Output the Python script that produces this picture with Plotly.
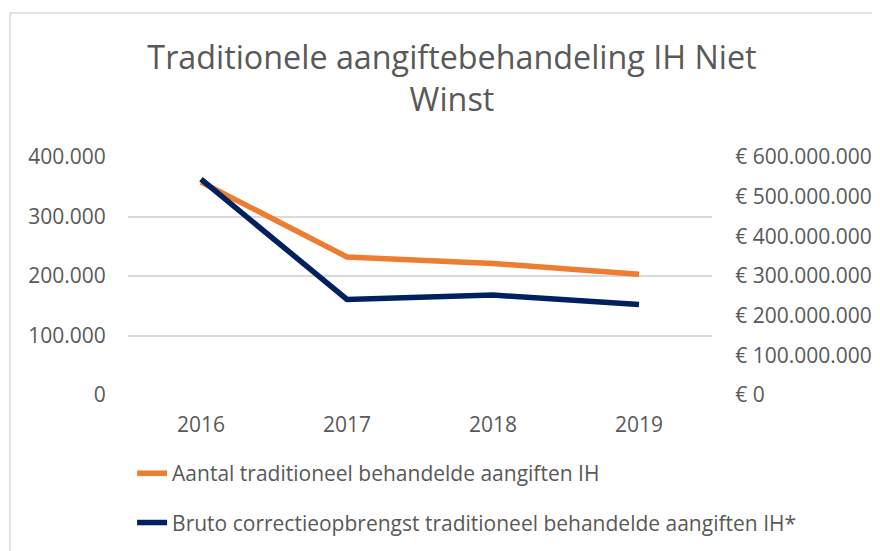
import plotly.graph_objects as go

years = ["2016", "2017", "2018", "2019"]
aantal = [358000, 232000, 221000, 203000]
bruto = [544000000, 241000000, 252000000, 228000000]

left_ticks = [0, 100000, 200000, 300000, 400000]
left_labels = ["0", "100.000", "200.000", "300.000", "400.000"]
right_ticks = [0, 100000000, 200000000, 300000000, 400000000, 500000000, 600000000]
right_labels = ["€ 0", "€ 100.000.000", "€ 200.000.000", "€ 300.000.000",
                "€ 400.000.000", "€ 500.000.000", "€ 600.000.000"]

name_a = "Aantal traditioneel behandelde aangiften IH"
name_b = "Bruto correctieopbrengst traditioneel behandelde aangiften IH*"
title = "Traditionele aangiftebehandeling IH Niet<br>Winst"

FONT = "Open Sans"
GRAY = "#595959"
TICK = 21

fig = go.Figure()
fig.add_trace(go.Scatter(x=years, y=aantal, name=name_a, mode="lines",
                         line=dict(color="#ED7D31", width=5.5), legendgroup="a"))
fig.add_trace(go.Scatter(x=years, y=bruto, name=name_b, mode="lines", yaxis="y2",
                         line=dict(color="#002060", width=5.5), legendgroup="b"))

fig.update_layout(
    width=880, height=551,
    margin=dict(l=120, r=176, t=149, b=164),
    paper_bgcolor="white", plot_bgcolor="white",
    font=dict(family=FONT, color=GRAY, size=TICK),
    title=dict(text=title, x=0.5045, xanchor="center", y=0.89, yanchor="top",
               font=dict(size=32.3, color=GRAY, family=FONT)),
    xaxis=dict(type="category", range=[-0.5, 3.5], showgrid=False, showline=False,
               ticks="outside", ticklen=11, tickcolor="rgba(0,0,0,0)",
               tickfont=dict(size=TICK, color=GRAY)),
    yaxis=dict(range=[0, 400000], tickvals=left_ticks, ticktext=left_labels,
               showgrid=True, gridcolor="#D9D9D9", gridwidth=1.5, zeroline=False,
               showline=False, ticks="outside", ticklen=17, tickcolor="rgba(0,0,0,0)",
               tickfont=dict(size=TICK, color=GRAY)),
    yaxis2=dict(range=[0, 600000000], tickvals=right_ticks, ticktext=right_labels,
                overlaying="y", side="right", showgrid=False, zeroline=False,
                showline=False, ticks="outside", ticklen=18, tickcolor="rgba(0,0,0,0)",
                tickfont=dict(size=TICK, color=GRAY)),
    legend=dict(x=0.007, xanchor="left", y=-0.244, yanchor="top", orientation="v",
                traceorder="grouped", tracegroupgap=19,
                font=dict(size=21, color=GRAY, family=FONT), bgcolor="rgba(0,0,0,0)"),
    showlegend=True,
    shapes=[dict(type="rect", xref="paper", yref="paper", x0=-0.202, x1=1.31,
                 y0=-0.75, y1=1.605, line=dict(color="#D9D9D9", width=1.5),
                 fillcolor="rgba(0,0,0,0)", layer="below")],
)

fig.write_html("out.html")
